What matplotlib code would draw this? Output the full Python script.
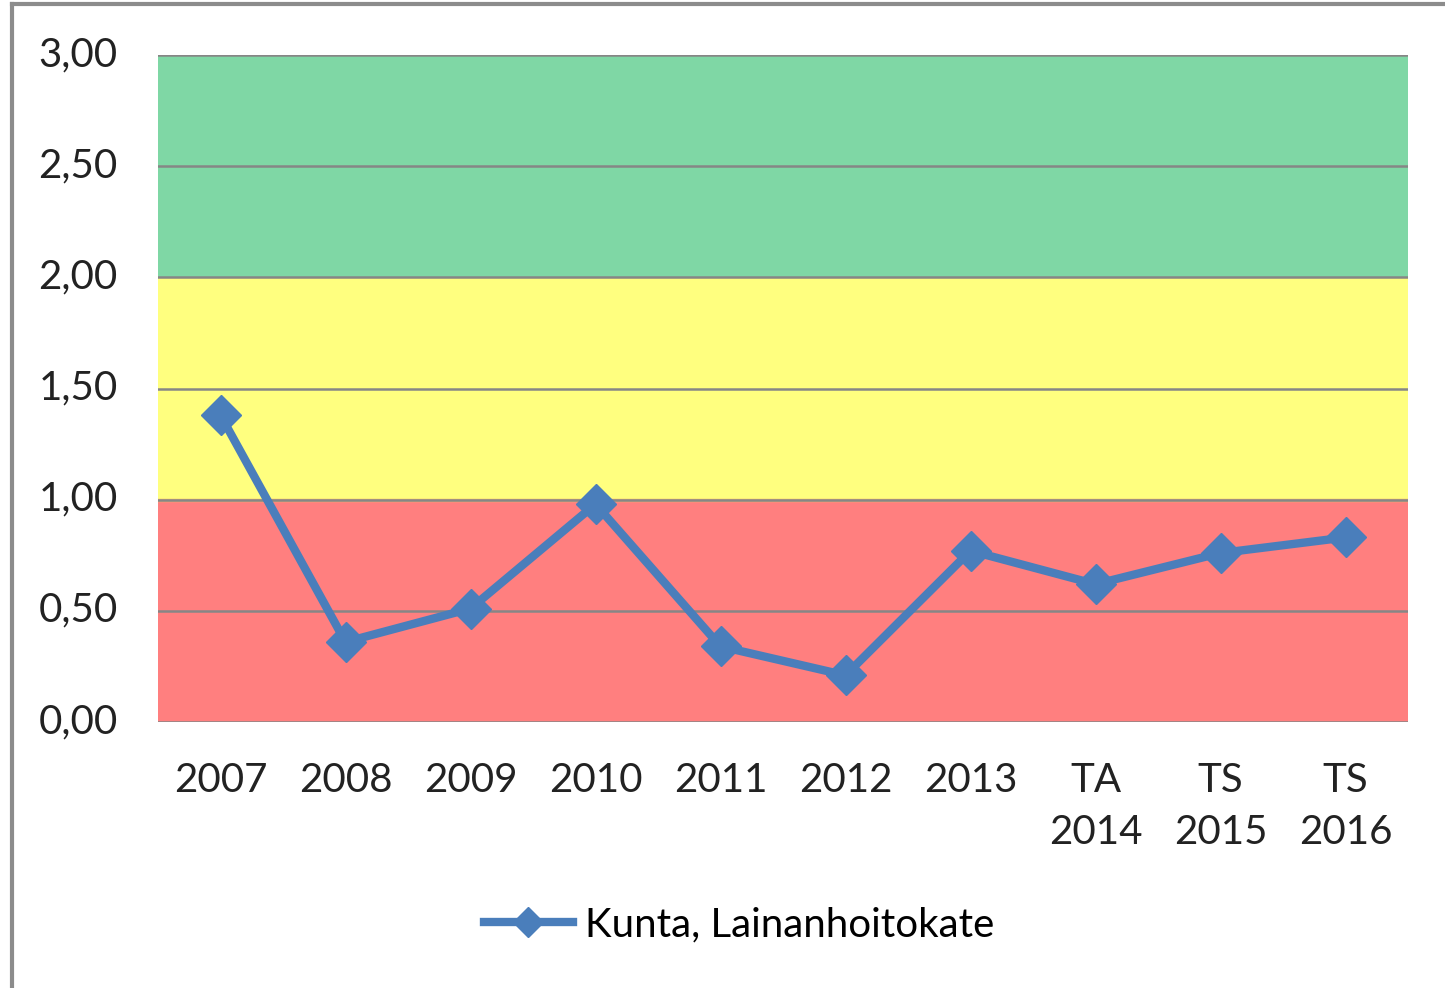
import matplotlib
matplotlib.use("Agg")
import matplotlib.pyplot as plt
from matplotlib.lines import Line2D
from matplotlib.transforms import ScaledTranslation

categories = ["2007", "2008", "2009", "2010", "2011", "2012", "2013", "TA\n2014", "TS\n2015", "TS\n2016"]
values = [1.38, 0.36, 0.51, 0.98, 0.34, 0.21, 0.77, 0.62, 0.76, 0.83]
series_name = "Kunta, Lainanhoitokate"
bands = [(0.0, 1.0, "#FF7F7F"), (1.0, 2.0, "#FFFF7F"), (2.0, 3.0, "#7FD7A5")]
yticks = [0.0, 0.5, 1.0, 1.5, 2.0, 2.5, 3.0]

plt.rcParams['font.family'] = ['Lato', 'DejaVu Sans']

W, H = 1445, 988
fig = plt.figure(figsize=(W / 100, H / 100), dpi=100)
ax = fig.add_axes([158 / W, 1 - 722 / H, (1408 - 158) / W, (722 - 55) / H])

n = len(categories)
x = list(range(n))
ax.set_xlim(-0.5, n - 0.5)
ax.set_ylim(0, 3)

for lo, hi, c in bands:
    ax.axhspan(lo, hi, color=c, zorder=0, lw=0)
ax.axhline(1.0, color="#F5B070", lw=2.5, zorder=0.5)

for t in yticks:
    ax.axhline(t, color="#868686", lw=1.8, zorder=1)

ax.plot(x, values, color="#4A7EBB", lw=6, marker="D", markersize=20,
        markerfacecolor="#4A7EBB", markeredgecolor="#4A7EBB", zorder=3,
        solid_joinstyle="round")

for s in ax.spines.values():
    s.set_visible(False)
ax.set_yticks(yticks)
ax.set_yticklabels([f"{t:.2f}".replace(".", ",") for t in yticks], fontsize=29, color="#222222")
ax.set_xticks(x)
ax.set_xticklabels(categories, fontsize=29, color="#222222", linespacing=1.5, va="top")
ax.tick_params(axis="both", length=0)
ax.tick_params(axis="y", pad=29)
ax.tick_params(axis="x", pad=29)

shift = ScaledTranslation(0, 4 / 100, fig.dpi_scale_trans)
for lbl in ax.get_yticklabels():
    lbl.set_transform(lbl.get_transform() + shift)

handle = Line2D([0], [0], color="#4A7EBB", lw=6, marker="D", markersize=15,
                markerfacecolor="#4A7EBB", markeredgecolor="#4A7EBB")
fig.legend([handle], [series_name], loc="center", bbox_to_anchor=(739 / W, 1 - 925 / H),
           frameon=False, fontsize=29, handlelength=2.2, handletextpad=0.3)

# outer frame (left and top visible)
fig.add_artist(Line2D([11.5 / W, 11.5 / W], [0, 1 - 4.5 / H], transform=fig.transFigure, color="#8C8C8C", lw=3))
fig.add_artist(Line2D([11.5 / W, 1], [1 - 4.5 / H, 1 - 4.5 / H], transform=fig.transFigure, color="#8C8C8C", lw=3))

fig.savefig("out.png", dpi=100)
